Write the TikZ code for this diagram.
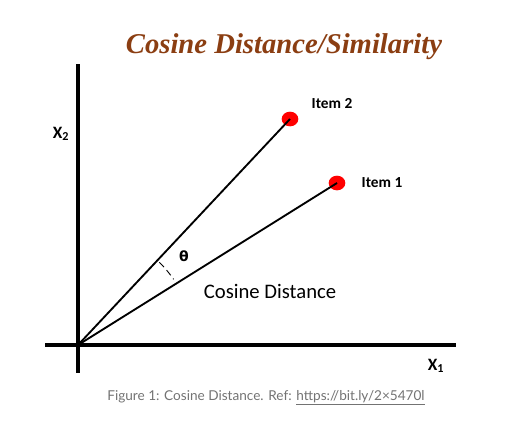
\documentclass[tikz,border=0pt]{standalone}
\usepackage{fontspec}
\usetikzlibrary{shapes.geometric}
\setmainfont{Carlito}
\newfontfamily\titlefont{Liberation Serif}
\newfontfamily\capfont{Lato}
\newfontfamily\thfont{DejaVu Sans}
\begin{document}
\begin{tikzpicture}[x=0.75pt,y=-0.75pt,
  axis/.style={line width=2.5pt,black},
  vec/.style={line width=1.4pt,black},
  dot/.style={ellipse,fill=red,minimum width=12.5pt,minimum height=11pt,inner sep=0pt},
  lbl/.style={font=\bfseries\fontsize{11.5}{13}\selectfont,anchor=west},
  axlbl/.style={font=\bfseries\fontsize{13}{15}\selectfont}]
\useasboundingbox (0,0) rectangle (506,433);
\definecolor{titlebrown}{RGB}{139,62,18}
\definecolor{capgrey}{RGB}{115,115,115}
\node[font=\titlefont\bfseries\itshape\fontsize{21.5}{25}\selectfont,text=titlebrown] (title) at (284,47) {Cosine Distance/Similarity};
\coordinate (o) at (78,345);
\coordinate (ytop) at (78,64);
\coordinate (ybot) at (78,373);
\coordinate (xl) at (45,345);
\coordinate (xr) at (456,345);
\draw[axis] (ytop) -- (ybot);
\draw[axis] (xl) -- (xr);
\node[dot] (i2) at (290,119) {};
\node[dot] (i1) at (337,183) {};
\draw[vec] (o) -- (i2.center);
\draw[vec] (o) -- (i1.center);
\node[lbl] (l2) at (307,104) {Item 2};
\node[lbl] (l1) at (357,183) {Item 1};
\node[axlbl] (x2) at (61,134) {X\textsubscript{2}};
\node[axlbl] (x1) at (436,366) {X\textsubscript{1}};
\draw[dash pattern=on 5pt off 3pt,line width=0.7pt] ([shift={(-45.5:116)}]o) arc[start angle=-45.5,end angle=-34.5,radius=116];
\node[font=\thfont\bfseries\fontsize{10.5}{12}\selectfont] (th) at (184,256) {θ};
\node[font=\fontsize{15.5}{18}\selectfont] (cd) at (270,291) {Cosine Distance};
\node[font=\capfont\fontsize{10.2}{12}\selectfont,text=capgrey] (cap) at (266,398) {Figure 1: Cosine Distance. Ref: \underline{https://bit.ly/2×5470l}};
\end{tikzpicture}
\end{document}
